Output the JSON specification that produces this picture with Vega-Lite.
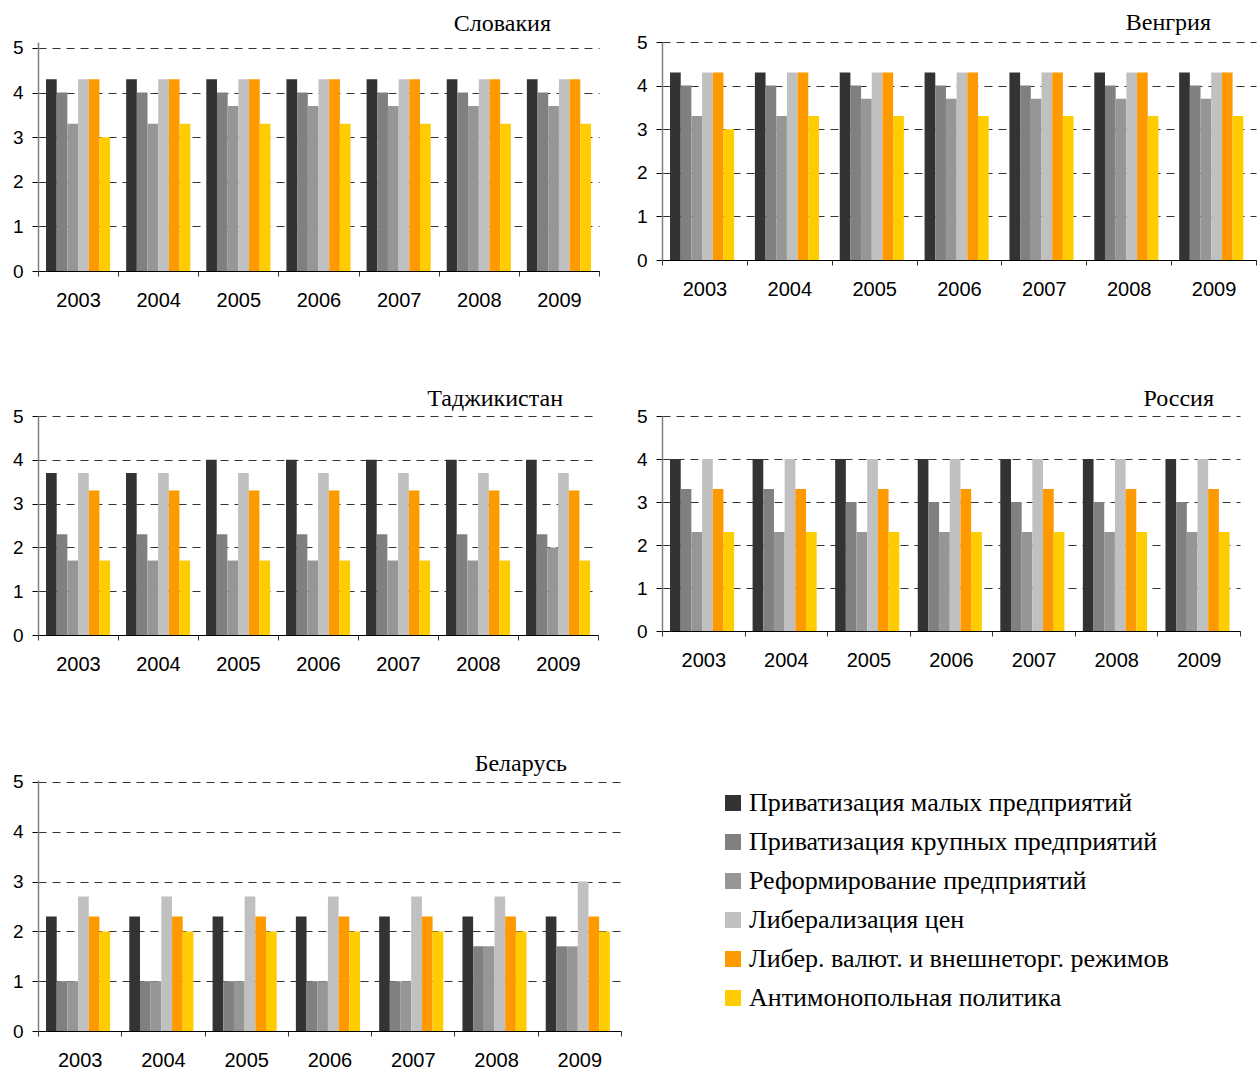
{
  "$schema": "https://vega.github.io/schema/vega-lite/v6.json",
  "background": "white",
  "padding": {"left": 12, "top": 11, "right": 0, "bottom": 0},
  "columns": 2,
  "align": "each",
  "bounds": "flush",
  "spacing": {"row": 145, "column": 41},
  "datasets": {
    "sk": [
      {"year":"2003","ind":"Приватизация малых предприятий","score":4.3},{"year":"2003","ind":"Приватизация крупных предприятий","score":4.0},{"year":"2003","ind":"Реформирование предприятий","score":3.3},{"year":"2003","ind":"Либерализация цен","score":4.3},{"year":"2003","ind":"Либер. валют. и внешнеторг. режимов","score":4.3},{"year":"2003","ind":"Антимонопольная политика","score":3.0},
      {"year":"2004","ind":"Приватизация малых предприятий","score":4.3},{"year":"2004","ind":"Приватизация крупных предприятий","score":4.0},{"year":"2004","ind":"Реформирование предприятий","score":3.3},{"year":"2004","ind":"Либерализация цен","score":4.3},{"year":"2004","ind":"Либер. валют. и внешнеторг. режимов","score":4.3},{"year":"2004","ind":"Антимонопольная политика","score":3.3},
      {"year":"2005","ind":"Приватизация малых предприятий","score":4.3},{"year":"2005","ind":"Приватизация крупных предприятий","score":4.0},{"year":"2005","ind":"Реформирование предприятий","score":3.7},{"year":"2005","ind":"Либерализация цен","score":4.3},{"year":"2005","ind":"Либер. валют. и внешнеторг. режимов","score":4.3},{"year":"2005","ind":"Антимонопольная политика","score":3.3},
      {"year":"2006","ind":"Приватизация малых предприятий","score":4.3},{"year":"2006","ind":"Приватизация крупных предприятий","score":4.0},{"year":"2006","ind":"Реформирование предприятий","score":3.7},{"year":"2006","ind":"Либерализация цен","score":4.3},{"year":"2006","ind":"Либер. валют. и внешнеторг. режимов","score":4.3},{"year":"2006","ind":"Антимонопольная политика","score":3.3},
      {"year":"2007","ind":"Приватизация малых предприятий","score":4.3},{"year":"2007","ind":"Приватизация крупных предприятий","score":4.0},{"year":"2007","ind":"Реформирование предприятий","score":3.7},{"year":"2007","ind":"Либерализация цен","score":4.3},{"year":"2007","ind":"Либер. валют. и внешнеторг. режимов","score":4.3},{"year":"2007","ind":"Антимонопольная политика","score":3.3},
      {"year":"2008","ind":"Приватизация малых предприятий","score":4.3},{"year":"2008","ind":"Приватизация крупных предприятий","score":4.0},{"year":"2008","ind":"Реформирование предприятий","score":3.7},{"year":"2008","ind":"Либерализация цен","score":4.3},{"year":"2008","ind":"Либер. валют. и внешнеторг. режимов","score":4.3},{"year":"2008","ind":"Антимонопольная политика","score":3.3},
      {"year":"2009","ind":"Приватизация малых предприятий","score":4.3},{"year":"2009","ind":"Приватизация крупных предприятий","score":4.0},{"year":"2009","ind":"Реформирование предприятий","score":3.7},{"year":"2009","ind":"Либерализация цен","score":4.3},{"year":"2009","ind":"Либер. валют. и внешнеторг. режимов","score":4.3},{"year":"2009","ind":"Антимонопольная политика","score":3.3}
    ],
    "hu": [
      {"year":"2003","ind":"Приватизация малых предприятий","score":4.3},{"year":"2003","ind":"Приватизация крупных предприятий","score":4.0},{"year":"2003","ind":"Реформирование предприятий","score":3.3},{"year":"2003","ind":"Либерализация цен","score":4.3},{"year":"2003","ind":"Либер. валют. и внешнеторг. режимов","score":4.3},{"year":"2003","ind":"Антимонопольная политика","score":3.0},
      {"year":"2004","ind":"Приватизация малых предприятий","score":4.3},{"year":"2004","ind":"Приватизация крупных предприятий","score":4.0},{"year":"2004","ind":"Реформирование предприятий","score":3.3},{"year":"2004","ind":"Либерализация цен","score":4.3},{"year":"2004","ind":"Либер. валют. и внешнеторг. режимов","score":4.3},{"year":"2004","ind":"Антимонопольная политика","score":3.3},
      {"year":"2005","ind":"Приватизация малых предприятий","score":4.3},{"year":"2005","ind":"Приватизация крупных предприятий","score":4.0},{"year":"2005","ind":"Реформирование предприятий","score":3.7},{"year":"2005","ind":"Либерализация цен","score":4.3},{"year":"2005","ind":"Либер. валют. и внешнеторг. режимов","score":4.3},{"year":"2005","ind":"Антимонопольная политика","score":3.3},
      {"year":"2006","ind":"Приватизация малых предприятий","score":4.3},{"year":"2006","ind":"Приватизация крупных предприятий","score":4.0},{"year":"2006","ind":"Реформирование предприятий","score":3.7},{"year":"2006","ind":"Либерализация цен","score":4.3},{"year":"2006","ind":"Либер. валют. и внешнеторг. режимов","score":4.3},{"year":"2006","ind":"Антимонопольная политика","score":3.3},
      {"year":"2007","ind":"Приватизация малых предприятий","score":4.3},{"year":"2007","ind":"Приватизация крупных предприятий","score":4.0},{"year":"2007","ind":"Реформирование предприятий","score":3.7},{"year":"2007","ind":"Либерализация цен","score":4.3},{"year":"2007","ind":"Либер. валют. и внешнеторг. режимов","score":4.3},{"year":"2007","ind":"Антимонопольная политика","score":3.3},
      {"year":"2008","ind":"Приватизация малых предприятий","score":4.3},{"year":"2008","ind":"Приватизация крупных предприятий","score":4.0},{"year":"2008","ind":"Реформирование предприятий","score":3.7},{"year":"2008","ind":"Либерализация цен","score":4.3},{"year":"2008","ind":"Либер. валют. и внешнеторг. режимов","score":4.3},{"year":"2008","ind":"Антимонопольная политика","score":3.3},
      {"year":"2009","ind":"Приватизация малых предприятий","score":4.3},{"year":"2009","ind":"Приватизация крупных предприятий","score":4.0},{"year":"2009","ind":"Реформирование предприятий","score":3.7},{"year":"2009","ind":"Либерализация цен","score":4.3},{"year":"2009","ind":"Либер. валют. и внешнеторг. режимов","score":4.3},{"year":"2009","ind":"Антимонопольная политика","score":3.3}
    ],
    "tj": [
      {"year":"2003","ind":"Приватизация малых предприятий","score":3.7},{"year":"2003","ind":"Приватизация крупных предприятий","score":2.3},{"year":"2003","ind":"Реформирование предприятий","score":1.7},{"year":"2003","ind":"Либерализация цен","score":3.7},{"year":"2003","ind":"Либер. валют. и внешнеторг. режимов","score":3.3},{"year":"2003","ind":"Антимонопольная политика","score":1.7},
      {"year":"2004","ind":"Приватизация малых предприятий","score":3.7},{"year":"2004","ind":"Приватизация крупных предприятий","score":2.3},{"year":"2004","ind":"Реформирование предприятий","score":1.7},{"year":"2004","ind":"Либерализация цен","score":3.7},{"year":"2004","ind":"Либер. валют. и внешнеторг. режимов","score":3.3},{"year":"2004","ind":"Антимонопольная политика","score":1.7},
      {"year":"2005","ind":"Приватизация малых предприятий","score":4.0},{"year":"2005","ind":"Приватизация крупных предприятий","score":2.3},{"year":"2005","ind":"Реформирование предприятий","score":1.7},{"year":"2005","ind":"Либерализация цен","score":3.7},{"year":"2005","ind":"Либер. валют. и внешнеторг. режимов","score":3.3},{"year":"2005","ind":"Антимонопольная политика","score":1.7},
      {"year":"2006","ind":"Приватизация малых предприятий","score":4.0},{"year":"2006","ind":"Приватизация крупных предприятий","score":2.3},{"year":"2006","ind":"Реформирование предприятий","score":1.7},{"year":"2006","ind":"Либерализация цен","score":3.7},{"year":"2006","ind":"Либер. валют. и внешнеторг. режимов","score":3.3},{"year":"2006","ind":"Антимонопольная политика","score":1.7},
      {"year":"2007","ind":"Приватизация малых предприятий","score":4.0},{"year":"2007","ind":"Приватизация крупных предприятий","score":2.3},{"year":"2007","ind":"Реформирование предприятий","score":1.7},{"year":"2007","ind":"Либерализация цен","score":3.7},{"year":"2007","ind":"Либер. валют. и внешнеторг. режимов","score":3.3},{"year":"2007","ind":"Антимонопольная политика","score":1.7},
      {"year":"2008","ind":"Приватизация малых предприятий","score":4.0},{"year":"2008","ind":"Приватизация крупных предприятий","score":2.3},{"year":"2008","ind":"Реформирование предприятий","score":1.7},{"year":"2008","ind":"Либерализация цен","score":3.7},{"year":"2008","ind":"Либер. валют. и внешнеторг. режимов","score":3.3},{"year":"2008","ind":"Антимонопольная политика","score":1.7},
      {"year":"2009","ind":"Приватизация малых предприятий","score":4.0},{"year":"2009","ind":"Приватизация крупных предприятий","score":2.3},{"year":"2009","ind":"Реформирование предприятий","score":2.0},{"year":"2009","ind":"Либерализация цен","score":3.7},{"year":"2009","ind":"Либер. валют. и внешнеторг. режимов","score":3.3},{"year":"2009","ind":"Антимонопольная политика","score":1.7}
    ],
    "ru": [
      {"year":"2003","ind":"Приватизация малых предприятий","score":4.0},{"year":"2003","ind":"Приватизация крупных предприятий","score":3.3},{"year":"2003","ind":"Реформирование предприятий","score":2.3},{"year":"2003","ind":"Либерализация цен","score":4.0},{"year":"2003","ind":"Либер. валют. и внешнеторг. режимов","score":3.3},{"year":"2003","ind":"Антимонопольная политика","score":2.3},
      {"year":"2004","ind":"Приватизация малых предприятий","score":4.0},{"year":"2004","ind":"Приватизация крупных предприятий","score":3.3},{"year":"2004","ind":"Реформирование предприятий","score":2.3},{"year":"2004","ind":"Либерализация цен","score":4.0},{"year":"2004","ind":"Либер. валют. и внешнеторг. режимов","score":3.3},{"year":"2004","ind":"Антимонопольная политика","score":2.3},
      {"year":"2005","ind":"Приватизация малых предприятий","score":4.0},{"year":"2005","ind":"Приватизация крупных предприятий","score":3.0},{"year":"2005","ind":"Реформирование предприятий","score":2.3},{"year":"2005","ind":"Либерализация цен","score":4.0},{"year":"2005","ind":"Либер. валют. и внешнеторг. режимов","score":3.3},{"year":"2005","ind":"Антимонопольная политика","score":2.3},
      {"year":"2006","ind":"Приватизация малых предприятий","score":4.0},{"year":"2006","ind":"Приватизация крупных предприятий","score":3.0},{"year":"2006","ind":"Реформирование предприятий","score":2.3},{"year":"2006","ind":"Либерализация цен","score":4.0},{"year":"2006","ind":"Либер. валют. и внешнеторг. режимов","score":3.3},{"year":"2006","ind":"Антимонопольная политика","score":2.3},
      {"year":"2007","ind":"Приватизация малых предприятий","score":4.0},{"year":"2007","ind":"Приватизация крупных предприятий","score":3.0},{"year":"2007","ind":"Реформирование предприятий","score":2.3},{"year":"2007","ind":"Либерализация цен","score":4.0},{"year":"2007","ind":"Либер. валют. и внешнеторг. режимов","score":3.3},{"year":"2007","ind":"Антимонопольная политика","score":2.3},
      {"year":"2008","ind":"Приватизация малых предприятий","score":4.0},{"year":"2008","ind":"Приватизация крупных предприятий","score":3.0},{"year":"2008","ind":"Реформирование предприятий","score":2.3},{"year":"2008","ind":"Либерализация цен","score":4.0},{"year":"2008","ind":"Либер. валют. и внешнеторг. режимов","score":3.3},{"year":"2008","ind":"Антимонопольная политика","score":2.3},
      {"year":"2009","ind":"Приватизация малых предприятий","score":4.0},{"year":"2009","ind":"Приватизация крупных предприятий","score":3.0},{"year":"2009","ind":"Реформирование предприятий","score":2.3},{"year":"2009","ind":"Либерализация цен","score":4.0},{"year":"2009","ind":"Либер. валют. и внешнеторг. режимов","score":3.3},{"year":"2009","ind":"Антимонопольная политика","score":2.3}
    ],
    "by": [
      {"year":"2003","ind":"Приватизация малых предприятий","score":2.3},{"year":"2003","ind":"Приватизация крупных предприятий","score":1.0},{"year":"2003","ind":"Реформирование предприятий","score":1.0},{"year":"2003","ind":"Либерализация цен","score":2.7},{"year":"2003","ind":"Либер. валют. и внешнеторг. режимов","score":2.3},{"year":"2003","ind":"Антимонопольная политика","score":2.0},
      {"year":"2004","ind":"Приватизация малых предприятий","score":2.3},{"year":"2004","ind":"Приватизация крупных предприятий","score":1.0},{"year":"2004","ind":"Реформирование предприятий","score":1.0},{"year":"2004","ind":"Либерализация цен","score":2.7},{"year":"2004","ind":"Либер. валют. и внешнеторг. режимов","score":2.3},{"year":"2004","ind":"Антимонопольная политика","score":2.0},
      {"year":"2005","ind":"Приватизация малых предприятий","score":2.3},{"year":"2005","ind":"Приватизация крупных предприятий","score":1.0},{"year":"2005","ind":"Реформирование предприятий","score":1.0},{"year":"2005","ind":"Либерализация цен","score":2.7},{"year":"2005","ind":"Либер. валют. и внешнеторг. режимов","score":2.3},{"year":"2005","ind":"Антимонопольная политика","score":2.0},
      {"year":"2006","ind":"Приватизация малых предприятий","score":2.3},{"year":"2006","ind":"Приватизация крупных предприятий","score":1.0},{"year":"2006","ind":"Реформирование предприятий","score":1.0},{"year":"2006","ind":"Либерализация цен","score":2.7},{"year":"2006","ind":"Либер. валют. и внешнеторг. режимов","score":2.3},{"year":"2006","ind":"Антимонопольная политика","score":2.0},
      {"year":"2007","ind":"Приватизация малых предприятий","score":2.3},{"year":"2007","ind":"Приватизация крупных предприятий","score":1.0},{"year":"2007","ind":"Реформирование предприятий","score":1.0},{"year":"2007","ind":"Либерализация цен","score":2.7},{"year":"2007","ind":"Либер. валют. и внешнеторг. режимов","score":2.3},{"year":"2007","ind":"Антимонопольная политика","score":2.0},
      {"year":"2008","ind":"Приватизация малых предприятий","score":2.3},{"year":"2008","ind":"Приватизация крупных предприятий","score":1.7},{"year":"2008","ind":"Реформирование предприятий","score":1.7},{"year":"2008","ind":"Либерализация цен","score":2.7},{"year":"2008","ind":"Либер. валют. и внешнеторг. режимов","score":2.3},{"year":"2008","ind":"Антимонопольная политика","score":2.0},
      {"year":"2009","ind":"Приватизация малых предприятий","score":2.3},{"year":"2009","ind":"Приватизация крупных предприятий","score":1.7},{"year":"2009","ind":"Реформирование предприятий","score":1.7},{"year":"2009","ind":"Либерализация цен","score":3.0},{"year":"2009","ind":"Либер. валют. и внешнеторг. режимов","score":2.3},{"year":"2009","ind":"Антимонопольная политика","score":2.0}
    ]
  },
  "concat": [
    {
      "width": 561, "height": 229,
      "title": {"text": "Словакия", "anchor": "end", "dx": -48, "offset": 3},
      "data": {"name": "sk"},
      "mark": {"type": "bar"},
      "encoding": {
        "x": {"field": "year", "type": "ordinal", "scale": {"paddingInner": 0, "paddingOuter": 0}},
        "xOffset": {"field": "ind", "sort": ["Приватизация малых предприятий","Приватизация крупных предприятий","Реформирование предприятий","Либерализация цен","Либер. валют. и внешнеторг. режимов","Антимонопольная политика"], "scale": {"paddingInner": 0, "paddingOuter": 0.75}},
        "y": {"field": "score", "type": "quantitative", "scale": {"domain": [0, 5.134], "nice": false, "zero": true}},
        "color": {"field": "ind", "type": "nominal", "scale": {"domain": ["Приватизация малых предприятий","Приватизация крупных предприятий","Реформирование предприятий","Либерализация цен","Либер. валют. и внешнеторг. режимов","Антимонопольная политика"], "range": ["#333333","#808080","#969696","#c0c0c0","#ff9900","#ffcc00"]}, "legend": {"orient": "none", "legendX": 682, "legendY": 748}}
      }
    },
    {
      "width": 594, "height": 218,
      "title": {"text": "Венгрия", "anchor": "end", "dx": -45, "offset": -2},
      "data": {"name": "hu"},
      "mark": {"type": "bar"},
      "encoding": {
        "x": {"field": "year", "type": "ordinal", "scale": {"paddingInner": 0, "paddingOuter": 0}},
        "xOffset": {"field": "ind", "sort": ["Приватизация малых предприятий","Приватизация крупных предприятий","Реформирование предприятий","Либерализация цен","Либер. валют. и внешнеторг. режимов","Антимонопольная политика"], "scale": {"paddingInner": 0, "paddingOuter": 0.75}},
        "y": {"field": "score", "type": "quantitative", "scale": {"domain": [0, 5], "nice": false}},
        "color": {"field": "ind", "type": "nominal", "scale": {"domain": ["Приватизация малых предприятий","Приватизация крупных предприятий","Реформирование предприятий","Либерализация цен","Либер. валют. и внешнеторг. режимов","Антимонопольная политика"], "range": ["#333333","#808080","#969696","#c0c0c0","#ff9900","#ffcc00"]}, "legend": {"orient": "none", "legendX": 682, "legendY": 748}}
      }
    },
    {
      "width": 560, "height": 219,
      "title": {"text": "Таджикистан", "anchor": "end", "dx": -35, "offset": -4},
      "data": {"name": "tj"},
      "mark": {"type": "bar"},
      "encoding": {
        "x": {"field": "year", "type": "ordinal", "scale": {"paddingInner": 0, "paddingOuter": 0}},
        "xOffset": {"field": "ind", "sort": ["Приватизация малых предприятий","Приватизация крупных предприятий","Реформирование предприятий","Либерализация цен","Либер. валют. и внешнеторг. режимов","Антимонопольная политика"], "scale": {"paddingInner": 0, "paddingOuter": 0.75}},
        "y": {"field": "score", "type": "quantitative", "scale": {"domain": [0, 5], "nice": false}},
        "color": {"field": "ind", "type": "nominal", "scale": {"domain": ["Приватизация малых предприятий","Приватизация крупных предприятий","Реформирование предприятий","Либерализация цен","Либер. валют. и внешнеторг. режимов","Антимонопольная политика"], "range": ["#333333","#808080","#969696","#c0c0c0","#ff9900","#ffcc00"]}, "legend": {"orient": "none", "legendX": 682, "legendY": 748}}
      }
    },
    {
      "width": 578, "height": 215,
      "title": {"text": "Россия", "anchor": "end", "dx": -26, "offset": -4},
      "data": {"name": "ru"},
      "mark": {"type": "bar"},
      "encoding": {
        "x": {"field": "year", "type": "ordinal", "scale": {"paddingInner": 0, "paddingOuter": 0}},
        "xOffset": {"field": "ind", "sort": ["Приватизация малых предприятий","Приватизация крупных предприятий","Реформирование предприятий","Либерализация цен","Либер. валют. и внешнеторг. режимов","Антимонопольная политика"], "scale": {"paddingInner": 0, "paddingOuter": 0.75}},
        "y": {"field": "score", "type": "quantitative", "scale": {"domain": [0, 5], "nice": false}},
        "color": {"field": "ind", "type": "nominal", "scale": {"domain": ["Приватизация малых предприятий","Приватизация крупных предприятий","Реформирование предприятий","Либерализация цен","Либер. валют. и внешнеторг. режимов","Антимонопольная политика"], "range": ["#333333","#808080","#969696","#c0c0c0","#ff9900","#ffcc00"]}, "legend": {"orient": "none", "legendX": 682, "legendY": 748}}
      }
    },
    {
      "width": 583, "height": 251,
      "title": {"text": "Беларусь", "anchor": "end", "dx": -54, "offset": -3},
      "data": {"name": "by"},
      "mark": {"type": "bar"},
      "encoding": {
        "x": {"field": "year", "type": "ordinal", "scale": {"paddingInner": 0, "paddingOuter": 0}},
        "xOffset": {"field": "ind", "sort": ["Приватизация малых предприятий","Приватизация крупных предприятий","Реформирование предприятий","Либерализация цен","Либер. валют. и внешнеторг. режимов","Антимонопольная политика"], "scale": {"paddingInner": 0, "paddingOuter": 0.75}},
        "y": {"field": "score", "type": "quantitative", "scale": {"domain": [0, 5.04], "nice": false}},
        "color": {"field": "ind", "type": "nominal", "scale": {"domain": ["Приватизация малых предприятий","Приватизация крупных предприятий","Реформирование предприятий","Либерализация цен","Либер. валют. и внешнеторг. режимов","Антимонопольная политика"], "range": ["#333333","#808080","#969696","#c0c0c0","#ff9900","#ffcc00"]}, "legend": {"orient": "none", "legendX": 682, "legendY": 748}}
      }
    }
  ],
  "config": {
    "view": {"stroke": null},
    "title": {"font": "Liberation Serif", "fontSize": 24, "fontWeight": "normal", "color": "#000000", "frame": "group"},
    "axisX": {"title": null, "labelAngle": 0, "labelFont": "Liberation Sans", "labelFontSize": 20, "labelColor": "#000000", "domainColor": "#000000", "domainWidth": 1, "tickColor": "#333333", "tickSize": 5, "tickBand": "extent", "labelPadding": 14, "grid": false},
    "axisY": {"title": null, "values": [0, 1, 2, 3, 4, 5], "labelFont": "Liberation Sans", "labelFontSize": 19, "labelColor": "#000000", "domainColor": "#808080", "domainWidth": 1.5, "tickColor": "#000000", "tickSize": 6, "labelPadding": 9, "grid": true, "gridColor": "#000000", "gridOpacity": 0.8, "gridDash": [8, 6], "gridWidth": 1},
    "legend": {"title": null, "symbolType": "square", "symbolSize": 256, "symbolStrokeWidth": 0, "symbolOpacity": 1, "labelFont": "Liberation Serif", "labelFontSize": 26, "labelColor": "#000000", "labelLimit": 0, "labelOffset": 3, "rowPadding": 13, "padding": 0}
  }
}
